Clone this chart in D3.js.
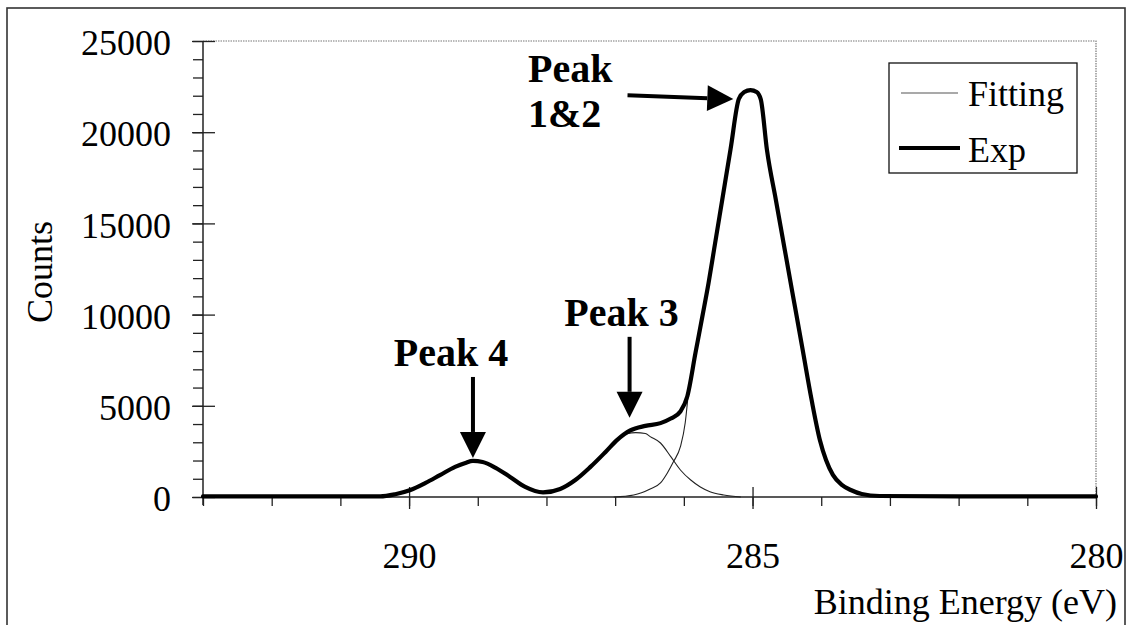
<!DOCTYPE html>
<html>
<head>
<meta charset="utf-8">
<script src="https://cdn.jsdelivr.net/npm/d3@7"></script>
<style>
  html, body { margin: 0; padding: 0; background: #fff; }
  svg { display: block; }
  text { font-family: "Liberation Serif", "Times New Roman", serif; fill: #000; }
</style>
</head>
<body>
<svg id="chart" width="1127" height="625"></svg>
<script>
// C 1s spectrum: binding energy (eV) and counts
const expEnergy = [293.0, 292.0, 291.0, 290.42, 290.20, 289.98, 289.76, 289.55, 289.33, 289.18, 289.07, 288.93, 288.74, 288.53, 288.31, 288.05, 287.80, 287.58, 287.36, 287.14, 286.97, 286.78, 286.56, 286.34, 286.19, 286.05, 285.95, 285.83, 285.73, 285.64, 285.56, 285.44, 285.32, 285.20, 285.12, 285.03, 284.94, 284.88, 284.79, 284.66, 284.53, 284.40, 284.27, 284.14, 284.02, 283.93, 283.83, 283.70, 283.57, 283.41, 283.15, 282.0, 281.0, 280.0];
const expCounts = [30, 30, 30, 30, 150, 380, 770, 1200, 1650, 1870, 1980, 1920, 1600, 1100, 550, 250, 440, 930, 1650, 2470, 3130, 3650, 3900, 4050, 4300, 4690, 5510, 7910, 9910, 11740, 13570, 16320, 19070, 21815, 22200, 22310, 22200, 21800, 19020, 16280, 13540, 10800, 8060, 5320, 3130, 2030, 1210, 660, 385, 165, 55, 30, 30, 30];

// Fitted component under peak 3
const fit3Energy = [286.85, 286.70, 286.56, 286.49, 286.34, 286.19, 286.05, 285.90, 285.76, 285.62, 285.42, 285.17];
const fit3Counts = [3450, 3530, 3480, 3310, 2960, 2210, 1480, 930, 550, 290, 110, 0];

// Fitted component for peaks 1&2 (rising edge)
const fit12Energy = [287.02, 286.73, 286.49, 286.34, 286.24, 286.15, 286.05, 285.98, 285.93];
const fit12Counts = [0, 110, 440, 770, 1320, 1940, 2760, 4070, 5880];

const xTicksMajor = [290, 285, 280];
const yTicksMajor = [0, 5000, 10000, 15000, 20000, 25000];

// Peak annotations: arrow tip in data units
const peakLabels = ["Peak 4", "Peak 3"];
const peakTipEnergy = [289.07, 286.79];
const peakTipCounts = [2140, 4340];
const mainLabelLines = ["Peak", "1&2"];
const mainArrowFrom = [286.82, 22030];
const mainArrowTo = [285.28, 21815];

const svg = d3.select("#chart");

const x = d3.scaleLinear().domain([293, 280]).range([203, 1096]);
const y = d3.scaleLinear().domain([0, 25000]).range([497, 41]);

// outer frame
svg.append("rect")
  .attr("x", 7).attr("y", 8).attr("width", 1118).attr("height", 640)
  .attr("fill", "none").attr("stroke", "#333").attr("stroke-width", 1.6);

// dotted plot-area border (top and right)
svg.append("path")
  .attr("d", `M${x(293)},${y(25000)}H${x(280)}V${y(0)}`)
  .attr("fill", "none").attr("stroke", "#777").attr("stroke-width", 1.2)
  .attr("stroke-dasharray", "1.5,1");

// y axis: minor ticks every 1000, major every 5000 crossing the axis
const yAxisMinor = d3.axisLeft(y).tickValues(d3.range(0, 25001, 1000)).tickSize(10).tickFormat("");
const gyMinor = svg.append("g").attr("transform", `translate(${x(293)},0)`).call(yAxisMinor);
gyMinor.select(".domain").remove();
gyMinor.selectAll("line").attr("stroke", "#222").attr("stroke-width", 1.3);

const gy = svg.append("g").attr("transform", `translate(${x(293)},0)`)
  .call(d3.axisLeft(y).tickValues(yTicksMajor).tickSize(0).tickPadding(32).tickFormat(d3.format("d")));
gy.select(".domain").remove();
gy.selectAll(".tick text")
  .style("font-family", '"Liberation Serif", "Times New Roman", serif')
  .style("font-size", "36px").attr("dy", "0.38em").attr("x", -32);
gy.selectAll(".tick").append("line")
  .attr("x1", -11).attr("x2", 12).attr("stroke", "#222").attr("stroke-width", 1.3);

// y axis line (extends a little below zero)
svg.append("line")
  .attr("x1", x(293)).attr("x2", x(293)).attr("y1", y(25000)).attr("y2", y(0) + 8)
  .attr("stroke", "#222").attr("stroke-width", 1.5);

// x axis: minor ticks every 1 eV, major every 5 eV crossing the axis
const gxMinor = svg.append("g").attr("transform", `translate(0,${y(0)})`)
  .call(d3.axisBottom(x).tickValues(d3.range(280, 294, 1)).tickSize(9).tickFormat(""));
gxMinor.select(".domain").remove();
gxMinor.selectAll("line").attr("stroke", "#222").attr("stroke-width", 1.3);

const gx = svg.append("g").attr("transform", `translate(0,${y(0)})`)
  .call(d3.axisBottom(x).tickValues(xTicksMajor).tickSize(0).tickPadding(48).tickFormat(d3.format("d")));
gx.select(".domain").remove();
gx.selectAll(".tick text")
  .style("font-family", '"Liberation Serif", "Times New Roman", serif')
  .style("font-size", "36px").attr("dy", "0.71em").attr("y", 45);
gx.selectAll(".tick").append("line")
  .attr("y1", -10).attr("y2", 12).attr("stroke", "#222").attr("stroke-width", 1.3);

svg.append("line")
  .attr("x1", x(293)).attr("x2", x(280)).attr("y1", y(0)).attr("y2", y(0))
  .attr("stroke", "#222").attr("stroke-width", 1.5);

// axis titles
svg.append("text")
  .attr("transform", `translate(52,${(y(0) + y(25000)) / 2 + 3}) rotate(-90)`)
  .attr("text-anchor", "middle").style("font-size", "36px").text("Counts");
svg.append("text")
  .attr("x", 1117).attr("y", 614).attr("text-anchor", "end")
  .style("font-size", "36px").text("Binding Energy (eV)");

// curves (points ordered left to right on screen for monotone interpolation)
const toPoints = (es, cs) => es.map((e, i) => [e, cs[i]]).sort((a, b) => b[0] - a[0]);
const line = d3.line().x(d => x(d[0])).y(d => y(d[1])).curve(d3.curveMonotoneX);

svg.append("path").datum(toPoints(fit3Energy, fit3Counts))
  .attr("d", line).attr("fill", "none").attr("stroke", "#222").attr("stroke-width", 1.1);
svg.append("path").datum(toPoints(fit12Energy, fit12Counts))
  .attr("d", line).attr("fill", "none").attr("stroke", "#222").attr("stroke-width", 1.1);
svg.append("path").datum(toPoints(expEnergy, expCounts))
  .attr("d", line).attr("fill", "none").attr("stroke", "#000").attr("stroke-width", 4.2)
  .attr("stroke-linejoin", "round").attr("stroke-linecap", "round");

// annotation arrows
function arrow(x0, y0, x1, y1) {
  const ang = Math.atan2(y1 - y0, x1 - x0);
  const head = 26, half = 13;
  const bx = x1 - head * Math.cos(ang), by = y1 - head * Math.sin(ang);
  svg.append("line").attr("x1", x0).attr("y1", y0).attr("x2", bx).attr("y2", by)
    .attr("stroke", "#000").attr("stroke-width", 4);
  const px = -Math.sin(ang) * half, py = Math.cos(ang) * half;
  svg.append("path")
    .attr("d", `M${x1},${y1}L${bx + px},${by + py}L${bx - px},${by - py}Z`)
    .attr("fill", "#000");
}

const labelOffsetX = [-22, -8];
peakLabels.forEach((lab, i) => {
  const tx = x(peakTipEnergy[i]), ty = y(peakTipCounts[i]);
  arrow(tx, ty - 81, tx, ty);
  svg.append("text")
    .attr("x", tx + labelOffsetX[i]).attr("y", ty - 92)
    .attr("text-anchor", "middle")
    .style("font-size", "40px").style("font-weight", "bold").text(lab);
});

arrow(x(mainArrowFrom[0]), y(mainArrowFrom[1]), x(mainArrowTo[0]), y(mainArrowTo[1]));
mainLabelLines.forEach((t, i) => {
  svg.append("text")
    .attr("x", 528).attr("y", 82 + i * 45)
    .style("font-size", "40px").style("font-weight", "bold").text(t);
});

// legend
const lg = svg.append("g");
lg.append("rect").attr("x", 889).attr("y", 63).attr("width", 188).attr("height", 110)
  .attr("fill", "#fff").attr("stroke", "#111").attr("stroke-width", 1.3);
lg.append("line").attr("x1", 901).attr("x2", 958).attr("y1", 93).attr("y2", 93)
  .attr("stroke", "#555").attr("stroke-width", 1.2);
lg.append("line").attr("x1", 899).attr("x2", 960).attr("y1", 148).attr("y2", 148)
  .attr("stroke", "#000").attr("stroke-width", 4.2);
lg.append("text").attr("x", 968).attr("y", 106).style("font-size", "36px").text("Fitting");
lg.append("text").attr("x", 968).attr("y", 162).style("font-size", "36px").text("Exp");
</script>
</body>
</html>
